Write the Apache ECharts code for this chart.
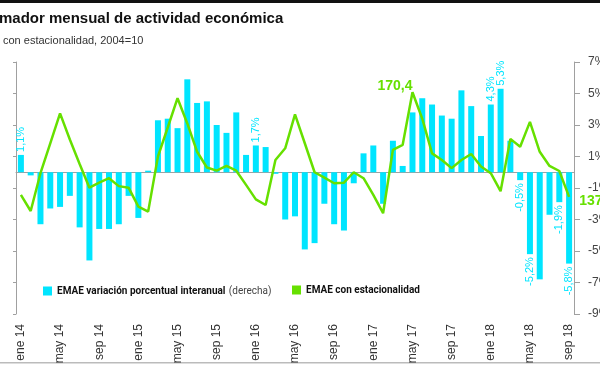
<!DOCTYPE html>
<html><head><meta charset="utf-8">
<script src="https://cdn.jsdelivr.net/npm/echarts@6/dist/echarts.min.js"></script>
<style>html,body{margin:0;padding:0;background:#fff}#c{width:600px;height:365px}</style>
</head><body><div id="c"></div>
<script>
const categories = [
 'ene 14','feb 14','mar 14','abr 14','may 14','jun 14','jul 14','ago 14','sep 14','oct 14','nov 14','dic 14',
 'ene 15','feb 15','mar 15','abr 15','may 15','jun 15','jul 15','ago 15','sep 15','oct 15','nov 15','dic 15',
 'ene 16','feb 16','mar 16','abr 16','may 16','jun 16','jul 16','ago 16','sep 16','oct 16','nov 16','dic 16',
 'ene 17','feb 17','mar 17','abr 17','may 17','jun 17','jul 17','ago 17','sep 17','oct 17','nov 17','dic 17',
 'ene 18','feb 18','mar 18','abr 18','may 18','jun 18','jul 18','ago 18','sep 18'];
const variacion = [
 1.1,-0.2,-3.3,-2.3,-2.2,-1.5,-3.5,-5.6,-3.6,-3.6,-3.3,-1.5,
 -2.9,0.1,3.3,3.4,2.8,5.9,4.4,4.5,3.0,2.5,3.8,1.1,
 1.7,1.6,-0.1,-3.0,-2.8,-4.9,-4.5,-2.0,-3.3,-3.7,-0.7,1.2,
 1.7,-2.0,2.0,0.4,3.8,4.7,4.3,3.6,3.4,5.2,4.2,2.3,
 4.3,5.3,2.0,-0.5,-5.2,-6.8,-2.7,-1.9,-5.8];
const emae = [
 137.8,132.7,144.7,154.2,163.7,155.4,147.6,140.1,141.7,143.1,140.6,140.1,
 134.1,132.5,150.0,159.2,168.5,160.5,151.5,146.5,145.5,147.0,145.5,141.0,
 136.4,134.6,148.9,152.6,163.4,154.2,145.0,143.3,141.5,141.7,145.0,143.1,
 137.8,132.0,152.1,153.7,170.4,162.0,151.0,148.9,146.3,148.9,150.8,146.8,
 144.7,139.0,155.6,153.1,161.0,151.5,147.0,145.4,137.2];
const barLabelIdx = [0,24,48,49,51,52,55,56];
const lineLabelIdx = [40,56];
const rightTicks = [-9,-7,-5,-3,-1,1,3,5,7];

const CYAN = '#00e5ff', GREEN = '#66e000', AXIS = '#a0a0a0';
const NAME_BAR = 'EMAE variación porcentual interanual';
const NAME_LINE = 'EMAE con estacionalidad';
const fmt = v => v.toFixed(1).replace('.', ',');

const barData = variacion.map((v, i) => {
  const item = { value: v };
  if (barLabelIdx.includes(i)) {
    item.label = {
      show: true, position: v >= 0 ? 'top' : 'bottom', rotate: 90,
      align: v >= 0 ? 'left' : 'right', verticalAlign: 'middle', distance: 3,
      color: CYAN, fontSize: 11, fontFamily: 'Liberation Sans',
      formatter: fmt(v) + '%'
    };
  }
  return item;
});
const lineData = emae.map((v, i) => {
  const item = { value: v };
  if (i === lineLabelIdx[0]) {
    item.label = { show: true, position: 'left', distance: 1, offset: [1, -6],
      formatter: fmt(v), color: GREEN, fontSize: 14, fontWeight: 'bold', fontFamily: 'Liberation Sans' };
  } else if (i === lineLabelIdx[1]) {
    item.label = { show: true, position: 'right', distance: 10, offset: [0, 4],
      formatter: fmt(v), color: GREEN, fontSize: 14, fontWeight: 'bold', fontFamily: 'Liberation Sans' };
  }
  return item;
});

const chart = echarts.init(document.getElementById('c'), null, { renderer: 'canvas' });
chart.setOption({
  animation: false,
  backgroundColor: '#fff',
  textStyle: { fontFamily: 'Liberation Sans' },
  title: [
    { text: 'mador mensual de actividad económica', left: -1, top: 11, padding: 0,
      textStyle: { fontSize: 15, fontWeight: 'bold', color: '#111', fontFamily: 'Liberation Sans' } },
    { text: 'con estacionalidad, 2004=10', left: 3, top: 35, padding: 0,
      textStyle: { fontSize: 11, fontWeight: 'normal', color: '#333', fontFamily: 'Liberation Sans' } }
  ],
  graphic: [
    { type: 'rect', left: 0, top: 0, shape: { width: 600, height: 3 }, style: { fill: '#111' } },
    { type: 'rect', left: 0, top: 362, shape: { width: 600, height: 1.5 }, style: { fill: '#bbb' } }
  ],
  legend: [
    { data: [{ name: NAME_BAR, icon: 'rect' }], left: 43, top: 285, itemWidth: 9, itemHeight: 9, padding: 0,
      formatter: n => '{b|' + n + '} {n|(derecha)}',
      textStyle: { rich: { b: { fontWeight: 'bold', fontSize: 10, color: '#111', fontFamily: 'Roboto' },
                           n: { fontSize: 10, color: '#444', fontFamily: 'Roboto' } } } },
    { data: [{ name: NAME_LINE, icon: 'rect' }], left: 292, top: 285, itemWidth: 9, itemHeight: 9, padding: 0,
      textStyle: { fontWeight: 'bold', fontSize: 10, color: '#111', fontFamily: 'Roboto' } }
  ],
  grid: { left: 16, right: 26, top: 62, bottom: 51, containLabel: false, outerBoundsMode: 'none' },
  xAxis: {
    type: 'category', data: categories, boundaryGap: true,
    axisLine: { lineStyle: { color: AXIS } }, axisTick: { show: false },
    axisLabel: { interval: 3, rotate: 90, margin: 10, fontSize: 12, color: '#333' }
  },
  yAxis: [
    { type: 'value', position: 'left', min: 100, max: 180, interval: 10,
      axisLine: { show: true, lineStyle: { color: AXIS } },
      axisTick: { show: true, length: 3, lineStyle: { color: AXIS } },
      axisLabel: { show: false }, splitLine: { show: false } },
    { type: 'value', position: 'right', min: rightTicks[0], max: rightTicks[rightTicks.length - 1], interval: 2,
      axisLine: { show: true, lineStyle: { color: AXIS } },
      axisTick: { show: true, length: 6, lineStyle: { color: AXIS } },
      axisLabel: { margin: 14, fontSize: 12, color: '#444', formatter: '{value}%' },
      splitLine: { show: false } }
  ],
  series: [
    { name: NAME_BAR, type: 'bar', yAxisIndex: 1, data: barData, barWidth: 6,
      itemStyle: { color: CYAN }, z: 2 },
    { name: NAME_LINE, type: 'line', yAxisIndex: 0, data: lineData,
      showSymbol: true, showAllSymbol: true, symbol: 'circle', symbolSize: 0.1,
      itemStyle: { color: GREEN }, lineStyle: { color: GREEN, width: 2.5 }, z: 3 }
  ]
});
</script></body></html>
